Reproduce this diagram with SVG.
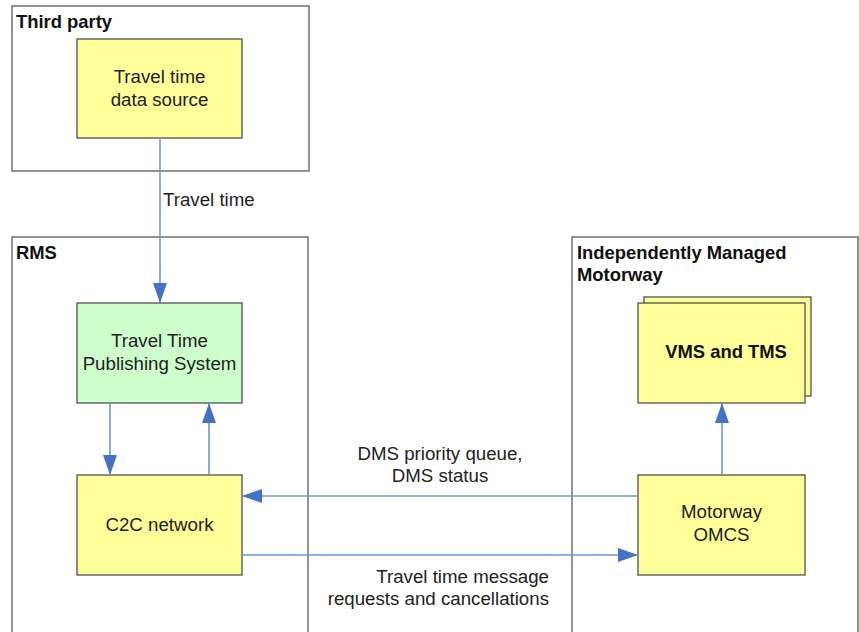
<svg xmlns="http://www.w3.org/2000/svg" width="859" height="632" viewBox="0 0 859 632">
<style>
.bg{fill:#ffffff}
.container{fill:none;stroke:#707070;stroke-width:1.5}
.box{stroke:#505050;stroke-width:1.3}
.yellow{fill:#ffff99}
.green{fill:#ccffcc}
.lbl{font-family:"Liberation Sans",Arial,sans-serif;font-size:18.7px;fill:#222}
.title{font-family:"Liberation Sans",Arial,sans-serif;font-size:18.4px;font-weight:bold;fill:#111}
.edge{fill:none;stroke:#6d98d8;stroke-width:1.6}
</style>
<defs>
<marker id="arr" viewBox="0 0 20 14" refX="20" refY="7" markerWidth="20" markerHeight="14" markerUnits="userSpaceOnUse" orient="auto">
<path d="M0,0 L20,7 L0,14 Z" fill="#4472c4"/>
</marker>
</defs>
<rect class="bg" x="0" y="0" width="859" height="632"/>
<g id="third-party">
<rect class="container" x="12" y="6" width="297" height="165"/>
<text class="title" x="16" y="28">Third party</text>
</g>
<g id="rms">
<rect class="container" x="12" y="237" width="296" height="420"/>
<text class="title" x="16" y="259">RMS</text>
</g>
<g id="imm">
<rect class="container" x="572" y="237" width="286" height="420"/>
<text class="title" x="577" y="259">Independently Managed</text>
<text class="title" x="577" y="281">Motorway</text>
</g>
<g id="data-source">
<rect class="box yellow" x="77" y="39" width="165" height="99"/>
<text class="lbl" x="159.5" y="83" text-anchor="middle">Travel time</text>
<text class="lbl" x="159.5" y="106" text-anchor="middle">data source</text>
</g>
<g id="ttps">
<rect class="box green" x="77" y="303" width="165" height="100"/>
<text class="lbl" x="159.5" y="347" text-anchor="middle">Travel Time</text>
<text class="lbl" x="159.5" y="370" text-anchor="middle">Publishing System</text>
</g>
<g id="c2c">
<rect class="box yellow" x="77" y="475" width="165" height="100"/>
<text class="lbl" x="159.5" y="531" text-anchor="middle">C2C network</text>
</g>
<g id="vms">
<rect class="box yellow" x="644" y="297" width="167" height="99"/>
<rect class="box yellow" x="638" y="303" width="167" height="100"/>
<text class="title" x="726" y="358" text-anchor="middle">VMS and TMS</text>
</g>
<g id="omcs">
<rect class="box yellow" x="638" y="475" width="167" height="100"/>
<text class="lbl" x="721.5" y="518" text-anchor="middle">Motorway</text>
<text class="lbl" x="721.5" y="541" text-anchor="middle">OMCS</text>
</g>
<g id="connectors">
<line class="edge" x1="160" y1="138" x2="160" y2="303" marker-end="url(#arr)"/>
<line class="edge" x1="110" y1="403" x2="110" y2="475" marker-end="url(#arr)"/>
<line class="edge" x1="209" y1="475" x2="209" y2="403" marker-end="url(#arr)"/>
<line class="edge" x1="638" y1="496" x2="242" y2="496" marker-end="url(#arr)"/>
<line class="edge" x1="242" y1="555" x2="638" y2="555" marker-end="url(#arr)"/>
<line class="edge" x1="722" y1="475" x2="722" y2="403" marker-end="url(#arr)"/>
<text class="lbl" x="163" y="206">Travel time</text>
<text class="lbl" x="440" y="460" text-anchor="middle">DMS priority queue,</text>
<text class="lbl" x="440" y="482" text-anchor="middle">DMS status</text>
<text class="lbl" x="549" y="583" text-anchor="end">Travel time message</text>
<text class="lbl" x="549" y="605" text-anchor="end">requests and cancellations</text>
</g>
</svg>
